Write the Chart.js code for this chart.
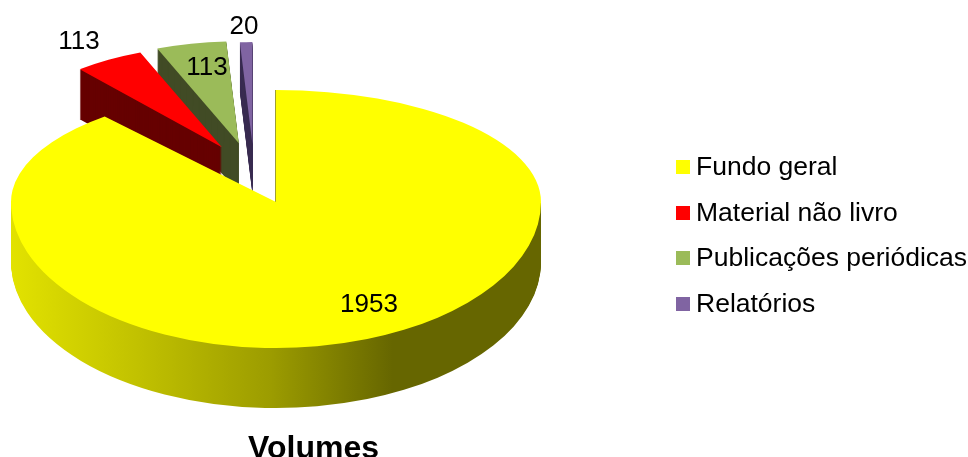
<!DOCTYPE html>
<html>
<head>
<meta charset="utf-8">
<title>Volumes</title>
<script src="https://cdn.jsdelivr.net/npm/chart.js@4"></script>
<style>
    html, body { margin: 0; padding: 0; background: #fff; }
    #wrap { position: relative; width: 968px; height: 457px; overflow: hidden; }
    #legend { position: absolute; left: 676px; top: 144px; font: 26.5px "Liberation Sans", Arial, sans-serif; color: #000; }
    #legend div { height: 45.5px; line-height: 45.5px; white-space: nowrap; }
    #legend span { display: inline-block; position: relative; top: -1px; width: 14px; height: 14px; margin-right: 6px; }
</style>
</head>
<body>
<div id="wrap">
    <canvas id="pieChart" width="968" height="457"></canvas>
    <div id="legend"></div>
</div>
<script>
const categories = ["Fundo geral", "Material não livro", "Publicações periódicas", "Relatórios"];
const values = [1953, 113, 113, 20];
const colors = ["#FFFF00", "#FF0000", "#9BBB59", "#8064A2"];
const wallColors = ["#666600", "#660000", "#414B25", "#3A2D52"];
// how far each slice is pulled out, as a share of its radius
const explode = [0, 0.627, 0.59, 0.568];

// the big slice is seen closer than the pulled out ones, so it gets its own ellipse
const bigSlice = { cx: 276, cy: 202, rx: 265, ryTop: 112, ryBottom: 146, depth: 60 };
const backSlice = { cy: 202, rx: 220, ry: 102, depth: 50 };
const backShiftX = [0, 17, -9, -20];
const labelSpots = [[369, 305], [79, 42], [207, 68], [244, 27]];

// repaint an arc with another colour, keeping the geometry from the controller
function paint(ctx, arc, color) {
    const saved = arc.options;
    arc.options = {
        backgroundColor: color, borderColor: color, borderWidth: 0, borderAlign: "center",
        borderRadius: 0, spacing: 0, offset: 0, circular: true
    };
    arc.draw(ctx);
    arc.options = saved;
}

function place(ctx, arc, cx, cy, rx, ry) {
    ctx.translate(cx, cy);
    ctx.scale(rx / arc.outerRadius, ry / arc.outerRadius);
    ctx.translate(-arc.x, -arc.y);
}

const pie3d = {
    id: "pie3d",
    beforeDatasetsDraw(chart) {
        const ctx = chart.ctx;
        const arcs = chart.getDatasetMeta(0).data;

        // purple, green, red, then the big one on top
        for (let i = arcs.length - 1; i > 0; i--) {
            const mid = (arcs[i].startAngle + arcs[i].endAngle) / 2;
            const cx = bigSlice.cx + backShiftX[i] + Math.cos(mid) * explode[i] * backSlice.rx;
            const cy = backSlice.cy + Math.sin(mid) * explode[i] * backSlice.ry;
            for (let d = backSlice.depth; d > 0; d--) {
                ctx.save();
                place(ctx, arcs[i], cx, cy + d, backSlice.rx, backSlice.ry);
                paint(ctx, arcs[i], wallColors[i]);
                ctx.restore();
            }
            ctx.save();
            place(ctx, arcs[i], cx, cy, backSlice.rx, backSlice.ry);
            paint(ctx, arcs[i], colors[i]);
            ctx.restore();
        }

        const big = arcs[0];
        const b = bigSlice;
        const shade = ctx.createLinearGradient(big.x - big.outerRadius, 0, big.x + big.outerRadius, 0);
        shade.addColorStop(0, "#E2E200");
        shade.addColorStop(0.22, "#C4C400");
        shade.addColorStop(0.49, "#9C9C00");
        shade.addColorStop(0.72, "#666600");
        shade.addColorStop(1, "#666600");
        for (let d = b.depth; d > 0; d--) {
            ctx.save();
            ctx.beginPath();
            ctx.rect(0, b.cy + d, chart.width, chart.height);
            ctx.clip();
            place(ctx, big, b.cx, b.cy + d, b.rx, b.ryBottom);
            paint(ctx, big, shade);
            ctx.restore();
        }
        // thin edge of the wall seen along the straight side of the notch
        ctx.save();
        ctx.beginPath();
        ctx.rect(b.cx - 1, 0, 1, b.cy);
        ctx.clip();
        place(ctx, big, b.cx - 1, b.cy, b.rx, b.ryTop);
        paint(ctx, big, "#A0A030");
        ctx.restore();
        // top half and bottom half of the face have different heights
        ctx.save();
        ctx.beginPath();
        ctx.rect(0, 0, chart.width, b.cy);
        ctx.clip();
        place(ctx, big, b.cx, b.cy, b.rx, b.ryTop);
        paint(ctx, big, colors[0]);
        ctx.restore();
        ctx.save();
        ctx.beginPath();
        ctx.rect(0, b.cy, chart.width, chart.height);
        ctx.clip();
        place(ctx, big, b.cx, b.cy, b.rx, b.ryBottom);
        paint(ctx, big, colors[0]);
        ctx.restore();

        ctx.save();
        ctx.fillStyle = "#000";
        ctx.font = '26px "Liberation Sans", Arial, sans-serif';
        ctx.textAlign = "center";
        ctx.textBaseline = "middle";
        values.forEach(function (v, i) {
            ctx.fillText(String(v), labelSpots[i][0], labelSpots[i][1]);
        });
        ctx.restore();
        return false;
    }
};

new Chart(document.getElementById("pieChart").getContext("2d"), {
    type: "pie",
    plugins: [pie3d],
    data: {
        labels: categories,
        datasets: [{
            data: values,
            backgroundColor: colors,
            borderWidth: 0
        }]
    },
    options: {
        responsive: false,
        animation: false,
        layout: { padding: { left: 248 } },
        plugins: {
            legend: { display: false },
            tooltip: { enabled: false },
            title: {
                display: true,
                text: "Volumes",
                position: "bottom",
                align: "start",
                color: "#000",
                padding: 0,
                font: { family: '"Liberation Sans", Arial, sans-serif', size: 32, weight: "bold", lineHeight: 0.52 }
            }
        }
    }
});

// legend next to the chart
const legend = document.getElementById("legend");
categories.forEach(function (name, i) {
    const row = document.createElement("div");
    const box = document.createElement("span");
    box.style.background = colors[i];
    row.appendChild(box);
    row.appendChild(document.createTextNode(name));
    legend.appendChild(row);
});
</script>
</body>
</html>
